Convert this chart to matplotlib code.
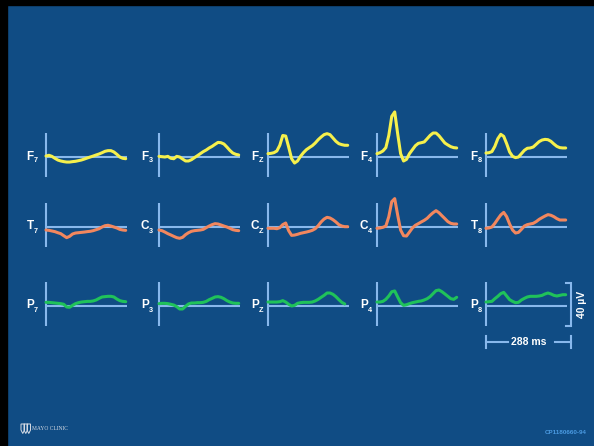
import numpy as np
import matplotlib
matplotlib.use("Agg")
import matplotlib.pyplot as plt
from matplotlib.patches import Rectangle, Polygon

# ---------------- data ----------------
time_ms = [0, 10, 20, 30, 40, 50, 60, 70, 80, 90, 100, 110, 120, 130,
           140, 150, 160, 170, 180, 190, 200, 210, 220, 230, 240, 250, 260, 270]

channels = [["F7", "F3", "FZ", "F4", "F8"],
            ["T7", "C3", "CZ", "C4", "T8"],
            ["P7", "P3", "PZ", "P4", "P8"]]

F7 = [0.9, 1.6, 0.6, -1.2, -2.8, -3.7, -4.3, -4.7, -4.7, -4.3, -4.0, -3.4, -2.8, -1.9,
      -0.9, 0.0, 0.9, 1.9, 2.8, 4.0, 5.3, 5.9, 5.9, 4.7, 2.5, 0.0, -1.2, -1.6]
F3 = [0.6, 0.3, 0.0, 0.6, -1.2, -1.6, 0.6, 0.0, -1.9, -3.7, -3.7, -2.5, -0.6, 1.2,
      3.1, 5.0, 6.5, 8.4, 9.9, 11.8, 13.6, 13.3, 12.1, 9.3, 6.2, 3.7, 2.5, 1.9]
FZ = [3.1, 3.4, 4.0, 5.6, 10.9, 20.0, 19.5, 9.3, -1.6, -5.6, -3.7, 0.6, 4.0, 6.8,
      8.7, 10.5, 13.0, 16.1, 18.6, 20.8, 21.7, 20.8, 17.7, 14.6, 12.4, 11.5, 10.9, 10.9]
F4 = [3.1, 4.0, 5.6, 8.7, 20.1, 37.8, 41.9, 21.7, 3.1, -3.7, -2.2, 3.1, 6.8, 10.5,
      12.7, 13.3, 14.0, 17.0, 20.1, 22.3, 22.3, 19.8, 16.4, 13.0, 11.2, 9.6, 8.7, 8.4]
F8 = [3.7, 4.0, 5.0, 9.9, 17.0, 21.1, 19.2, 12.4, 4.7, 0.6, -0.6, 0.0, 3.1, 6.2,
      8.1, 8.4, 9.3, 11.8, 14.3, 15.8, 16.4, 16.1, 14.6, 12.1, 9.9, 8.7, 8.4, 8.4]

T7 = [-2.8, -3.1, -3.7, -4.3, -5.3, -6.2, -8.1, -9.9, -8.7, -6.5, -5.6, -5.3, -5.0, -4.7,
      -4.3, -4.0, -3.4, -2.5, -1.6, 0.0, 1.2, 1.6, 0.9, 0.0, -0.9, -2.2, -2.8, -3.1]
C3 = [-2.8, -3.4, -4.7, -6.2, -7.4, -8.7, -9.9, -10.5, -9.6, -7.1, -5.3, -4.0, -3.4, -3.1,
      -2.8, -2.2, -0.6, 0.9, 2.2, 3.1, 2.8, 1.9, 0.9, 0.0, -1.2, -2.5, -3.1, -3.4]
CZ = [-1.2, -1.2, -1.2, -1.6, -0.6, 2.2, 3.7, -3.4, -7.8, -7.5, -6.8, -5.9, -5.3, -4.7,
      -4.0, -3.1, -1.6, 1.2, 4.7, 7.4, 9.0, 8.4, 6.8, 4.7, 2.2, 0.9, 0.3, 0.3]
C4 = [-1.2, -0.9, -0.3, 0.9, 9.6, 23.6, 26.4, 11.2, -2.8, -8.1, -8.4, -4.7, -0.9, 1.6,
      3.1, 4.7, 6.2, 8.1, 10.9, 13.3, 15.2, 13.3, 10.5, 7.8, 5.0, 3.4, 2.8, 2.8]
T8 = [-1.2, -0.9, 0.0, 3.4, 7.4, 11.2, 13.6, 9.6, 2.8, -2.8, -5.6, -5.0, -2.2, 0.9,
      2.2, 2.8, 3.4, 5.0, 7.1, 8.7, 10.2, 11.5, 10.9, 9.6, 7.8, 6.5, 6.5, 6.5]

P7 = [3.4, 3.4, 3.1, 2.8, 2.5, 2.2, 1.6, -0.9, -1.2, 0.6, 2.2, 3.1, 3.7, 4.0,
      4.3, 4.3, 4.7, 5.6, 7.1, 8.4, 8.7, 9.0, 9.0, 8.4, 6.5, 5.0, 4.3, 4.0]
P3 = [2.2, 2.5, 2.5, 2.2, 1.6, 0.9, -0.6, -2.8, -2.8, -0.3, 1.9, 2.8, 2.8, 3.1,
      3.1, 3.4, 4.3, 5.9, 7.1, 8.4, 8.7, 8.1, 6.8, 5.0, 3.7, 2.8, 2.5, 2.5]
PZ = [3.7, 3.7, 3.7, 3.7, 4.0, 5.0, 3.7, 1.6, 0.0, 0.6, 2.5, 3.1, 3.4, 3.4,
      3.4, 3.7, 4.7, 6.2, 8.1, 9.9, 12.1, 12.1, 10.9, 8.7, 5.9, 3.4, 1.9, np.nan]
P4 = [3.7, 3.7, 4.3, 6.2, 9.3, 13.3, 14.0, 8.4, 3.1, 0.6, 1.2, 2.2, 3.1, 3.7,
      4.3, 4.7, 5.6, 6.8, 8.7, 11.5, 14.3, 14.9, 13.3, 11.2, 9.0, 6.8, 6.2, 8.1]
P8 = [3.7, 4.0, 4.3, 6.8, 9.0, 11.5, 12.7, 9.3, 5.9, 4.3, 3.1, 3.4, 5.6, 7.1,
      8.4, 9.0, 9.0, 9.0, 9.3, 9.9, 11.2, 12.1, 11.2, 9.9, 9.3, 9.9, 10.5, 10.5]

traces = [[F7, F3, FZ, F4, F8],
          [T7, C3, CZ, C4, T8],
          [P7, P3, PZ, P4, P8]]

scale_time_ms = 288
scale_amp_uv = 40
scale_time_label = "288 ms"
scale_amp_label = "40 µV"

# ---------------- style / layout ----------------
W, H, DPI = 594, 446, 100
BG = "#104c84"
AXIS_C = "#88b8ec"
ROW_COLORS = ["#f6f04c", "#f2875e", "#20c25a"]
FONT = ["Liberation Sans Narrow", "Liberation Sans", "DejaVu Sans"]

col_x = [46, 159, 268, 377, 486]          # pixel x of vertical axis line
row_base = [157, 227, 306]                # pixel y of baseline
label_right = [38, 153, 263, 372, 482]    # pixel x of label right edge
PX_PER_MS = 85 / 288
PX_PER_UV = 43 / 40
AX_W = 85
AX_UP, AX_DN = 55, 45

def fx(px):
    return px / W

def fy(py):
    return 1 - py / H

fig = plt.figure(figsize=(W / DPI, H / DPI), dpi=DPI, facecolor=BG)

# black frame remnants
fig.add_artist(Rectangle((0, 0), fx(7), 1, transform=fig.transFigure,
                         color="black", zorder=0))
fig.add_artist(Rectangle((0, fy(5)), 1, 5 / H, transform=fig.transFigure,
                         color="black", zorder=0))

axes = {}
for r, row in enumerate(channels):
    for c, name in enumerate(row):
        base = row_base[r]
        ax = fig.add_axes([fx(col_x[c]), fy(base + AX_DN), AX_W / W,
                           (AX_UP + AX_DN) / H])
        ax.set_xlim(0, AX_W / PX_PER_MS)
        ax.set_ylim(-AX_DN / PX_PER_UV, AX_UP / PX_PER_UV)
        ax.axis("off")
        ax.patch.set_alpha(0)
        # axes lines
        ax.plot([0, 0], [-18.6, 22.3], color=AXIS_C, lw=1.5,
                solid_capstyle="butt", clip_on=False, zorder=2)
        ax.plot([0, 274], [0, 0], color=AXIS_C, lw=1.5,
                solid_capstyle="butt", clip_on=False, zorder=2)
        # trace
        ax.plot(time_ms, traces[r][c], color=ROW_COLORS[r], lw=2.2,
                solid_capstyle="round", solid_joinstyle="round",
                clip_on=False, zorder=3)
        axes[(r, c)] = ax
        # label
        xr = label_right[c]
        fig.text(fx(xr - 4.3), fy(base - 0.5), name[0], ha="right", va="center",
                 color="white", fontsize=8.5, fontweight="bold", family=FONT)
        fig.text(fx(xr), fy(base + 4), name[1:], ha="right", va="center",
                 color="white", fontsize=5.2, fontweight="bold", family=FONT)

# scale bars (in P8 axes data units)
ax = axes[(2, 4)]
xb = scale_time_ms
tick_ms = 5 / PX_PER_MS
yb0, yb1 = -18.6, -18.6 + scale_amp_uv
ax.plot([xb - tick_ms, xb, xb, xb - tick_ms], [yb1, yb1, yb0, yb0],
        color=AXIS_C, lw=1.5, clip_on=False, solid_joinstyle="miter")
ax.text(xb + 11 / PX_PER_MS, (yb0 + yb1) / 2, scale_amp_label, rotation=90,
        ha="center", va="center", color="white", fontsize=7.5,
        fontweight="bold", family=FONT, clip_on=False)

yh = -36 / PX_PER_UV
tick_uv = 6 / PX_PER_UV
ax.plot([0, 0], [yh - tick_uv, yh + tick_uv], color=AXIS_C, lw=1.5, clip_on=False)
ax.plot([xb, xb], [yh - tick_uv, yh + tick_uv], color=AXIS_C, lw=1.5, clip_on=False)
ax.plot([0, 22 / PX_PER_MS], [yh, yh], color=AXIS_C, lw=1.5, clip_on=False)
ax.plot([69 / PX_PER_MS, xb], [yh, yh], color=AXIS_C, lw=1.5, clip_on=False)
ax.text(xb * 43 / 85, yh, scale_time_label, ha="center", va="center",
        color="white", fontsize=7.5, fontweight="bold", family=FONT, clip_on=False)

# footer: Mayo Clinic logo and code
for i, x0 in enumerate([21, 24, 27]):
    pts = [(fx(x0), fy(424)), (fx(x0 + 3.5), fy(424)), (fx(x0 + 3.5), fy(430)),
           (fx(x0 + 1.75), fy(433.5)), (fx(x0), fy(430))]
    fig.add_artist(Polygon(pts, closed=True, fill=False, edgecolor="#d8dde6",
                           lw=0.7, transform=fig.transFigure))
fig.text(fx(32), fy(428), "MAYO CLINIC", ha="left", va="center", color="#d8dde6",
         fontsize=4, family=["Liberation Serif", "DejaVu Serif"])
fig.text(fx(587), fy(432), "CP1180660-94", ha="right", va="center",
         color="#4b9be2", fontsize=4.5, fontweight="bold", family=FONT)

fig.savefig("out.png", dpi=DPI, facecolor=BG)
